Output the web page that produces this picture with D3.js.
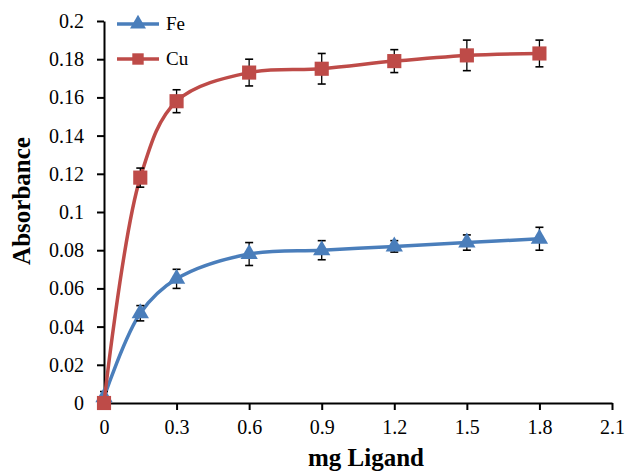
<!DOCTYPE html>
<html>
<head>
<meta charset="utf-8">
<script src="https://cdn.jsdelivr.net/npm/d3@7"></script>
<style>
  body { margin: 0; background: #fff; }
  svg text { font-family: "Liberation Serif", "Times New Roman", serif; }
</style>
</head>
<body>
<div id="chart"></div>
<script>
// 数据
const doses = [0, 0.15, 0.3, 0.6, 0.9, 1.2, 1.5, 1.8];
const feValues = [0.003, 0.047, 0.065, 0.078, 0.080, 0.082, 0.084, 0.086];
const feErrors = [0.003, 0.004, 0.005, 0.006, 0.005, 0.003, 0.004, 0.006];
const cuValues = [0.0, 0.118, 0.158, 0.173, 0.175, 0.179, 0.182, 0.183];
const cuErrors = [0.0, 0.005, 0.006, 0.007, 0.008, 0.006, 0.008, 0.007];
const xTicks = [0, 0.3, 0.6, 0.9, 1.2, 1.5, 1.8, 2.1];
const yTicks = [0, 0.02, 0.04, 0.06, 0.08, 0.1, 0.12, 0.14, 0.16, 0.18, 0.2];

const width = 627, height = 472;
const margin = { left: 104, right: 15, top: 21, bottom: 69 };

const series = [
  { name: 'Fe', values: feValues, errors: feErrors, color: '#4A7EBB', shape: 'triangle' },
  { name: 'Cu', values: cuValues, errors: cuErrors, color: '#BE4B48', shape: 'square' }
];

const svg = d3.select('#chart').append('svg')
  .attr('width', width).attr('height', height);

const x = d3.scaleLinear().domain([0, 2.1]).range([margin.left, width - margin.right]);
const y = d3.scaleLinear().domain([0, 0.2]).range([height - margin.bottom, margin.top]);

// 坐标轴
const xAxis = svg.append('g')
  .attr('transform', `translate(0,${y(0)})`)
  .call(d3.axisBottom(x).tickValues(xTicks).tickSize(7).tickSizeOuter(0)
    .tickFormat(d => d === 0 ? '0' : d3.format('.1f')(d)));
const yAxis = svg.append('g')
  .attr('transform', `translate(${x(0)},0)`)
  .call(d3.axisLeft(y).tickValues(yTicks).tickSize(7).tickSizeOuter(0)
    .tickFormat(d => d === 0 ? '0' : String(+d.toFixed(2))));

[xAxis, yAxis].forEach(a => {
  a.selectAll('path, line').attr('stroke', '#000').attr('stroke-width', 2);
  a.selectAll('text').attr('font-size', 20).attr('fill', '#000')
    .style('font-family', '"Liberation Serif", serif');
});
xAxis.selectAll('text').attr('dy', '1.05em');
yAxis.selectAll('text').attr('dx', '-0.5em');

// 坐标轴标题
svg.append('text')
  .attr('x', 366).attr('y', 466)
  .attr('text-anchor', 'middle').attr('font-size', 25).attr('font-weight', 'bold')
  .text('mg Ligand');
svg.append('text')
  .attr('transform', `translate(30,201) rotate(-90)`)
  .attr('text-anchor', 'middle').attr('font-size', 25).attr('font-weight', 'bold')
  .text('Absorbance');

const line = d3.line()
  .x(d => x(d[0])).y(d => y(d[1]))
  .curve(d3.curveCatmullRom.alpha(0.5));

const tri = d3.symbol().type(d3.symbolTriangle);
const sq = d3.symbol().type(d3.symbolSquare);

function marker(g, s, size) {
  return g.append('path')
    .attr('d', (s.shape === 'triangle' ? tri : sq).size(size)())
    .attr('fill', s.color);
}

series.forEach(s => {
  const pts = doses.map((d, i) => [d, s.values[i], s.errors[i]]);
  const g = svg.append('g');

  g.append('path')
    .datum(pts)
    .attr('d', line)
    .attr('fill', 'none')
    .attr('stroke', s.color)
    .attr('stroke-width', 3.5);

  // 误差线
  const eb = g.selectAll('.err').data(pts.filter(p => p[2] > 0)).join('g');
  eb.append('line')
    .attr('x1', d => x(d[0])).attr('x2', d => x(d[0]))
    .attr('y1', d => y(d[1] - d[2])).attr('y2', d => y(d[1] + d[2]))
    .attr('stroke', '#000').attr('stroke-width', 1.3);
  [-1, 1].forEach(sign => {
    eb.append('line')
      .attr('x1', d => x(d[0]) - 4).attr('x2', d => x(d[0]) + 4)
      .attr('y1', d => y(d[1] + sign * d[2])).attr('y2', d => y(d[1] + sign * d[2]))
      .attr('stroke', '#000').attr('stroke-width', 1.6);
  });

  // 标记点
  pts.forEach(p => {
    marker(g, s, s.shape === 'triangle' ? 130 : 200)
      .attr('transform', `translate(${x(p[0])},${y(p[1])})`);
  });
});

// 图例
const legend = svg.append('g');
series.forEach((s, i) => {
  const ly = 24 + i * 35;
  legend.append('line')
    .attr('x1', 117).attr('x2', 159).attr('y1', ly).attr('y2', ly)
    .attr('stroke', s.color).attr('stroke-width', 3.5);
  marker(legend, s, s.shape === 'triangle' ? 110 : 130)
    .attr('transform', `translate(138,${ly})`);
  legend.append('text')
    .attr('x', 166).attr('y', ly + 6)
    .attr('font-size', 19).text(s.name);
});
</script>
</body>
</html>
